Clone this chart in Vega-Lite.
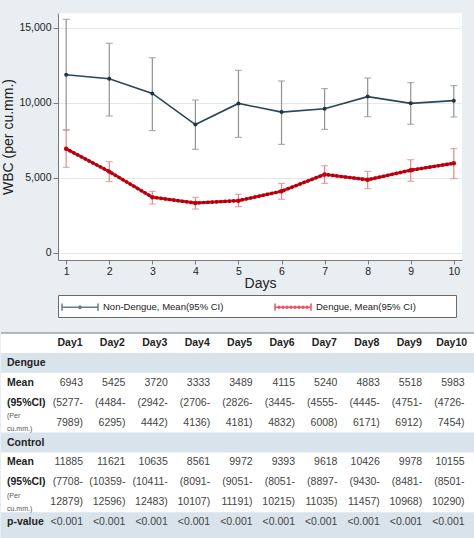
{
  "$schema": "https://vega.github.io/schema/vega-lite/v6.json",
  "background": "#e9eef2",
  "padding": {"left": 0, "top": 13, "right": 0, "bottom": 0},
  "spacing": 14,
  "resolve": {
    "scale": {"color": "independent", "shape": "independent"},
    "legend": {"color": "independent", "shape": "independent"}
  },
  "config": {
    "font": "Liberation Sans",
    "view": {"stroke": null},
    "axis": {
      "labelFont": "Liberation Sans",
      "titleFont": "Liberation Sans",
      "labelColor": "#222222",
      "titleColor": "#222222",
      "titleFontWeight": "normal",
      "domainColor": "#7a7a7a",
      "tickColor": "#7a7a7a"
    },
    "legend": {
      "orient": "bottom",
      "direction": "horizontal",
      "strokeColor": "#6b6b6b",
      "fillColor": "#ffffff",
      "padding": 3,
      "offset": 4,
      "labelFont": "Liberation Sans",
      "labelFontSize": 9.5,
      "labelColor": "#222222",
      "labelLimit": 300,
      "symbolSize": 256,
      "symbolStrokeWidth": 1.5,
      "labelOffset": 24,
      "columnPadding": 48
    }
  },
  "datasets": {
    "series": [
      {"day": 1, "group": "Non-Dengue", "mean": 11885, "lo": 8200, "hi": 15580},
      {"day": 2, "group": "Non-Dengue", "mean": 11621, "lo": 9130, "hi": 13980},
      {"day": 3, "group": "Non-Dengue", "mean": 10635, "lo": 8160, "hi": 13020},
      {"day": 4, "group": "Non-Dengue", "mean": 8561, "lo": 6910, "hi": 10200},
      {"day": 5, "group": "Non-Dengue", "mean": 9972, "lo": 7710, "hi": 12180},
      {"day": 6, "group": "Non-Dengue", "mean": 9393, "lo": 7240, "hi": 11470},
      {"day": 7, "group": "Non-Dengue", "mean": 9618, "lo": 8240, "hi": 10960},
      {"day": 8, "group": "Non-Dengue", "mean": 10426, "lo": 9090, "hi": 11670},
      {"day": 9, "group": "Non-Dengue", "mean": 9978, "lo": 8580, "hi": 11360},
      {"day": 10, "group": "Non-Dengue", "mean": 10155, "lo": 9070, "hi": 11160},
      {"day": 1, "group": "Dengue", "mean": 6943, "lo": 5710, "hi": 8200},
      {"day": 2, "group": "Dengue", "mean": 5425, "lo": 4760, "hi": 6090},
      {"day": 3, "group": "Dengue", "mean": 3720, "lo": 3270, "hi": 4110},
      {"day": 4, "group": "Dengue", "mean": 3333, "lo": 2930, "hi": 3710},
      {"day": 5, "group": "Dengue", "mean": 3489, "lo": 3090, "hi": 3910},
      {"day": 6, "group": "Dengue", "mean": 4115, "lo": 3580, "hi": 4640},
      {"day": 7, "group": "Dengue", "mean": 5240, "lo": 4640, "hi": 5820},
      {"day": 8, "group": "Dengue", "mean": 4883, "lo": 4290, "hi": 5440},
      {"day": 9, "group": "Dengue", "mean": 5518, "lo": 4780, "hi": 6220},
      {"day": 10, "group": "Dengue", "mean": 5983, "lo": 4960, "hi": 6960}
    ],
    "table": [
      {"day": 1, "label": "Day1", "dMean": 6943, "dLo": "(5277-", "dHi": "7989)", "cMean": 11885, "cLo": "(7708-", "cHi": "12879)", "p": "<0.001"},
      {"day": 2, "label": "Day2", "dMean": 5425, "dLo": "(4484-", "dHi": "6295)", "cMean": 11621, "cLo": "(10359-", "cHi": "12596)", "p": "<0.001"},
      {"day": 3, "label": "Day3", "dMean": 3720, "dLo": "(2942-", "dHi": "4442)", "cMean": 10635, "cLo": "(10411-", "cHi": "12483)", "p": "<0.001"},
      {"day": 4, "label": "Day4", "dMean": 3333, "dLo": "(2706-", "dHi": "4136)", "cMean": 8561, "cLo": "(8091-", "cHi": "10107)", "p": "<0.001"},
      {"day": 5, "label": "Day5", "dMean": 3489, "dLo": "(2826-", "dHi": "4181)", "cMean": 9972, "cLo": "(9051-", "cHi": "11191)", "p": "<0.001"},
      {"day": 6, "label": "Day6", "dMean": 4115, "dLo": "(3445-", "dHi": "4832)", "cMean": 9393, "cLo": "(8051-", "cHi": "10215)", "p": "<0.001"},
      {"day": 7, "label": "Day7", "dMean": 5240, "dLo": "(4555-", "dHi": "6008)", "cMean": 9618, "cLo": "(8897-", "cHi": "11035)", "p": "<0.001"},
      {"day": 8, "label": "Day8", "dMean": 4883, "dLo": "(4445-", "dHi": "6171)", "cMean": 10426, "cLo": "(9430-", "cHi": "11457)", "p": "<0.001"},
      {"day": 9, "label": "Day9", "dMean": 5518, "dLo": "(4751-", "dHi": "6912)", "cMean": 9978, "cLo": "(8481-", "cHi": "10968)", "p": "<0.001"},
      {"day": 10, "label": "Day10", "dMean": 5983, "dLo": "(4726-", "dHi": "7454)", "cMean": 10155, "cLo": "(8501-", "cHi": "10290)", "p": "<0.001"}
    ],
    "bands": [{"row": 1}, {"row": 5}, {"row": 9}, {"row": 10}],
    "rowLabels": [
      {"row": 1, "text": "Dengue"},
      {"row": 2, "text": "Mean"},
      {"row": 3, "text": "(95%CI)"},
      {"row": 5, "text": "Control"},
      {"row": 6, "text": "Mean"},
      {"row": 7, "text": "(95%CI)"},
      {"row": 9, "text": "p-value"}
    ],
    "smallLabels": [
      {"row": 4, "text": "(Per\ncu.mm.)"},
      {"row": 8, "text": "(Per\ncu.mm.)"}
    ]
  },
  "vconcat": [
    {
      "width": 404,
      "height": 247,
      "view": {"fill": "#ffffff", "stroke": null},
      "data": {"name": "series"},
      "encoding": {
        "x": {
          "field": "day",
          "type": "quantitative",
          "scale": {"domain": [0.81, 10.19], "nice": false, "zero": false},
          "axis": {
            "title": "Days",
            "values": [1, 2, 3, 4, 5, 6, 7, 8, 9, 10],
            "format": "d",
            "grid": false,
            "labelFontSize": 10.5,
            "titleFontSize": 14,
            "tickSize": 4,
            "labelPadding": 2,
            "titlePadding": 0
          }
        }
      },
      "layer": [
        {
          "transform": [{"filter": "datum.group === 'Non-Dengue'"}],
          "mark": {"type": "errorbar", "color": "#8d9296", "thickness": 1.2, "ticks": {"size": 7, "color": "#8d9296", "thickness": 1.2}},
          "encoding": {
            "y": {
              "field": "lo",
              "type": "quantitative",
              "title": "WBC (per cu.mm.)",
              "scale": {"domain": [-467, 16000], "nice": false, "zero": false},
              "axis": {"title": "WBC (per cu.mm.)", "values": [0, 5000, 10000, 15000], "labelExpr": "format(datum.value, ',')", "grid": true, "gridColor": "#e5e8eb", "labelFontSize": 10.5, "titleFontSize": 14, "tickSize": 5, "labelPadding": 2, "titlePadding": 3}
            },
            "y2": {"field": "hi"}
          }
        },
        {
          "transform": [{"filter": "datum.group === 'Dengue'"}],
          "mark": {"type": "errorbar", "color": "#d98a8a", "thickness": 1.2, "ticks": {"size": 7, "color": "#d98a8a", "thickness": 1.2}},
          "encoding": {
            "y": {
              "field": "lo",
              "type": "quantitative",
              "title": "WBC (per cu.mm.)",
              "axis": {"title": "WBC (per cu.mm.)", "values": [0, 5000, 10000, 15000], "labelExpr": "format(datum.value, ',')", "grid": true, "gridColor": "#e5e8eb", "labelFontSize": 10.5, "titleFontSize": 14, "tickSize": 5, "labelPadding": 2, "titlePadding": 3}
            },
            "y2": {"field": "hi"}
          }
        },
        {
          "transform": [{"filter": "datum.group === 'Non-Dengue'"}],
          "mark": {"type": "line", "color": "#2a4658", "strokeWidth": 1.6},
          "encoding": {"y": {"field": "mean", "type": "quantitative", "title": "WBC (per cu.mm.)", "axis": {"title": "WBC (per cu.mm.)", "values": [0, 5000, 10000, 15000], "labelExpr": "format(datum.value, ',')", "grid": true, "gridColor": "#e5e8eb", "labelFontSize": 10.5, "titleFontSize": 14, "tickSize": 5, "labelPadding": 2, "titlePadding": 3}}}
        },
        {
          "transform": [{"filter": "datum.group === 'Dengue'"}],
          "mark": {"type": "line", "color": "#e2101c", "strokeWidth": 2.8},
          "encoding": {"y": {"field": "mean", "type": "quantitative", "title": "WBC (per cu.mm.)", "axis": {"title": "WBC (per cu.mm.)", "values": [0, 5000, 10000, 15000], "labelExpr": "format(datum.value, ',')", "grid": true, "gridColor": "#e5e8eb", "labelFontSize": 10.5, "titleFontSize": 14, "tickSize": 5, "labelPadding": 2, "titlePadding": 3}}}
        },
        {
          "transform": [{"filter": "datum.group === 'Dengue'"}],
          "mark": {"type": "line", "color": "#b0000e", "strokeWidth": 3.6, "strokeDash": [0.1, 4.2], "strokeCap": "round"},
          "encoding": {"y": {"field": "mean", "type": "quantitative", "title": "WBC (per cu.mm.)", "axis": {"title": "WBC (per cu.mm.)", "values": [0, 5000, 10000, 15000], "labelExpr": "format(datum.value, ',')", "grid": true, "gridColor": "#e5e8eb", "labelFontSize": 10.5, "titleFontSize": 14, "tickSize": 5, "labelPadding": 2, "titlePadding": 3}}}
        },
        {
          "transform": [{"filter": "datum.group === 'Non-Dengue'"}],
          "mark": {"type": "point", "filled": true, "color": "#1e3445", "size": 16, "opacity": 1},
          "encoding": {"y": {"field": "mean", "type": "quantitative", "title": "WBC (per cu.mm.)", "axis": {"title": "WBC (per cu.mm.)", "values": [0, 5000, 10000, 15000], "labelExpr": "format(datum.value, ',')", "grid": true, "gridColor": "#e5e8eb", "labelFontSize": 10.5, "titleFontSize": 14, "tickSize": 5, "labelPadding": 2, "titlePadding": 3}}}
        },
        {
          "transform": [{"filter": "datum.group === 'Dengue'"}],
          "mark": {"type": "point", "filled": true, "color": "#c4000f", "size": 20, "opacity": 1},
          "encoding": {"y": {"field": "mean", "type": "quantitative", "title": "WBC (per cu.mm.)", "axis": {"title": "WBC (per cu.mm.)", "values": [0, 5000, 10000, 15000], "labelExpr": "format(datum.value, ',')", "grid": true, "gridColor": "#e5e8eb", "labelFontSize": 10.5, "titleFontSize": 14, "tickSize": 5, "labelPadding": 2, "titlePadding": 3}}}
        },
        {
          "data": {"values": []},
          "mark": {"type": "point", "strokeWidth": 1.5},
          "encoding": {
            "y": {"field": "mean", "type": "quantitative", "title": "WBC (per cu.mm.)", "axis": {"title": "WBC (per cu.mm.)", "values": [0, 5000, 10000, 15000], "labelExpr": "format(datum.value, ',')", "grid": true, "gridColor": "#e5e8eb", "labelFontSize": 10.5, "titleFontSize": 14, "tickSize": 5, "labelPadding": 2, "titlePadding": 3}},
            "color": {
              "field": "group",
              "type": "nominal",
              "scale": {"domain": ["Non-Dengue, Mean(95% CI)", "Dengue, Mean(95% CI)"], "range": ["#2a4658", "#e2101c"]},
              "legend": {"title": null, "labelExpr": "datum.label == 'Dengue, Mean(95% CI)' ? datum.label + '\u00a0\u00a0\u00a0\u00a0\u00a0\u00a0\u00a0\u00a0\u00a0\u00a0\u00a0\u00a0\u00a0\u00a0\u200b' : datum.label"}
            },
            "shape": {
              "field": "group",
              "type": "nominal",
              "scale": {
                "domain": ["Non-Dengue, Mean(95% CI)", "Dengue, Mean(95% CI)"],
                "range": [
                  "M-1,0L3.5,0M-1,-0.45L-1,0.45M3.5,-0.45L3.5,0.45M1.4,0A0.15,0.15,0,1,1,1.1,0A0.15,0.15,0,1,1,1.4,0Z",
                  "M-1,0L3.5,0M-1,-0.45L-1,0.45M3.5,-0.45L3.5,0.45M-0.38,0A0.12,0.12,0,1,1,-0.62,0A0.12,0.12,0,1,1,-0.38,0ZM0.12,0A0.12,0.12,0,1,1,-0.12,0A0.12,0.12,0,1,1,0.12,0ZM0.62,0A0.12,0.12,0,1,1,0.38,0A0.12,0.12,0,1,1,0.62,0ZM1.12,0A0.12,0.12,0,1,1,0.88,0A0.12,0.12,0,1,1,1.12,0ZM1.62,0A0.12,0.12,0,1,1,1.38,0A0.12,0.12,0,1,1,1.62,0ZM2.12,0A0.12,0.12,0,1,1,1.88,0A0.12,0.12,0,1,1,2.12,0ZM2.62,0A0.12,0.12,0,1,1,2.38,0A0.12,0.12,0,1,1,2.62,0ZM3.12,0A0.12,0.12,0,1,1,2.88,0A0.12,0.12,0,1,1,3.12,0Z"
                ]
              },
              "legend": {"title": null, "labelExpr": "datum.label == 'Dengue, Mean(95% CI)' ? datum.label + '\u00a0\u00a0\u00a0\u00a0\u00a0\u00a0\u00a0\u00a0\u00a0\u00a0\u00a0\u00a0\u00a0\u00a0\u200b' : datum.label"}
            }
          }
        }
      ]
    },
    {
      "width": 417,
      "height": 219,
      "view": {"fill": "#ffffff", "stroke": null},
      "layer": [
        {
          "data": {"values": [{}]},
          "mark": {"type": "rect", "color": "#ffffff"},
          "encoding": {
            "x": {"datum": -0.934, "type": "quantitative", "scale": {"domain": [0.4104, 10.245], "nice": false, "zero": false}, "axis": null},
            "x2": {"datum": 1.0}
          }
        },
        {
          "data": {"name": "bands"},
          "mark": {"type": "rect", "color": "#d9e3ec"},
          "encoding": {
            "y": {"field": "row", "type": "ordinal", "scale": {"domain": [0, 1, 2, 3, 4, 5, 6, 7, 8, 9, 10], "paddingInner": 0, "paddingOuter": 0}, "axis": null},
            "x": {"datum": -0.934, "type": "quantitative"},
            "x2": {"datum": 10.7}
          }
        },
        {
          "data": {"values": [{}]},
          "mark": {"type": "rule", "color": "#9aa3ab", "strokeWidth": 1.5},
          "encoding": {
            "y": {"datum": 0, "type": "ordinal", "bandPosition": 0},
            "x": {"datum": -0.934, "type": "quantitative"},
            "x2": {"datum": 10.7}
          }
        },
        {
          "data": {"name": "table"},
          "mark": {"type": "text", "align": "center", "baseline": "middle", "fontWeight": "bold", "fontSize": 10.5, "color": "#222222", "dx": -13},
          "encoding": {
            "x": {"field": "day", "type": "quantitative"},
            "y": {"datum": 0, "type": "ordinal"},
            "text": {"field": "label", "type": "nominal"}
          }
        },
        {
          "data": {"name": "table"},
          "mark": {"type": "text", "align": "right", "baseline": "middle", "fontSize": 10.5, "color": "#444444"},
          "encoding": {
            "x": {"field": "day", "type": "quantitative"},
            "y": {"datum": 2, "type": "ordinal"},
            "text": {"field": "dMean", "type": "quantitative", "format": "d"}
          }
        },
        {
          "data": {"name": "table"},
          "mark": {"type": "text", "align": "right", "baseline": "middle", "fontSize": 10.5, "color": "#444444"},
          "encoding": {
            "x": {"field": "day", "type": "quantitative"},
            "y": {"datum": 3, "type": "ordinal"},
            "text": {"field": "dLo", "type": "nominal"}
          }
        },
        {
          "data": {"name": "table"},
          "mark": {"type": "text", "align": "right", "baseline": "middle", "fontSize": 10.5, "color": "#444444"},
          "encoding": {
            "x": {"field": "day", "type": "quantitative"},
            "y": {"datum": 4, "type": "ordinal"},
            "text": {"field": "dHi", "type": "nominal"}
          }
        },
        {
          "data": {"name": "table"},
          "mark": {"type": "text", "align": "right", "baseline": "middle", "fontSize": 10.5, "color": "#444444"},
          "encoding": {
            "x": {"field": "day", "type": "quantitative"},
            "y": {"datum": 6, "type": "ordinal"},
            "text": {"field": "cMean", "type": "quantitative", "format": "d"}
          }
        },
        {
          "data": {"name": "table"},
          "mark": {"type": "text", "align": "right", "baseline": "middle", "fontSize": 10.5, "color": "#444444"},
          "encoding": {
            "x": {"field": "day", "type": "quantitative"},
            "y": {"datum": 7, "type": "ordinal"},
            "text": {"field": "cLo", "type": "nominal"}
          }
        },
        {
          "data": {"name": "table"},
          "mark": {"type": "text", "align": "right", "baseline": "middle", "fontSize": 10.5, "color": "#444444"},
          "encoding": {
            "x": {"field": "day", "type": "quantitative"},
            "y": {"datum": 8, "type": "ordinal"},
            "text": {"field": "cHi", "type": "nominal"}
          }
        },
        {
          "data": {"name": "table"},
          "mark": {"type": "text", "align": "right", "baseline": "middle", "fontSize": 10.5, "color": "#444444"},
          "encoding": {
            "x": {"field": "day", "type": "quantitative"},
            "y": {"datum": 9, "type": "ordinal"},
            "text": {"field": "p", "type": "nominal"}
          }
        },
        {
          "data": {"name": "rowLabels"},
          "mark": {"type": "text", "align": "left", "baseline": "middle", "fontSize": 10.5, "fontWeight": "bold", "color": "#222222", "dx": -76},
          "encoding": {
            "x": {"datum": 1, "type": "quantitative"},
            "y": {"field": "row", "type": "ordinal"},
            "text": {"field": "text", "type": "nominal"}
          }
        },
        {
          "data": {"name": "smallLabels"},
          "mark": {"type": "text", "align": "left", "baseline": "middle", "fontSize": 7, "color": "#555555", "dx": -76, "dy": -6.5, "lineBreak": "\n", "lineHeight": 13},
          "encoding": {
            "x": {"datum": 1, "type": "quantitative"},
            "y": {"field": "row", "type": "ordinal"},
            "text": {"field": "text", "type": "nominal"}
          }
        }
      ]
    }
  ]
}
